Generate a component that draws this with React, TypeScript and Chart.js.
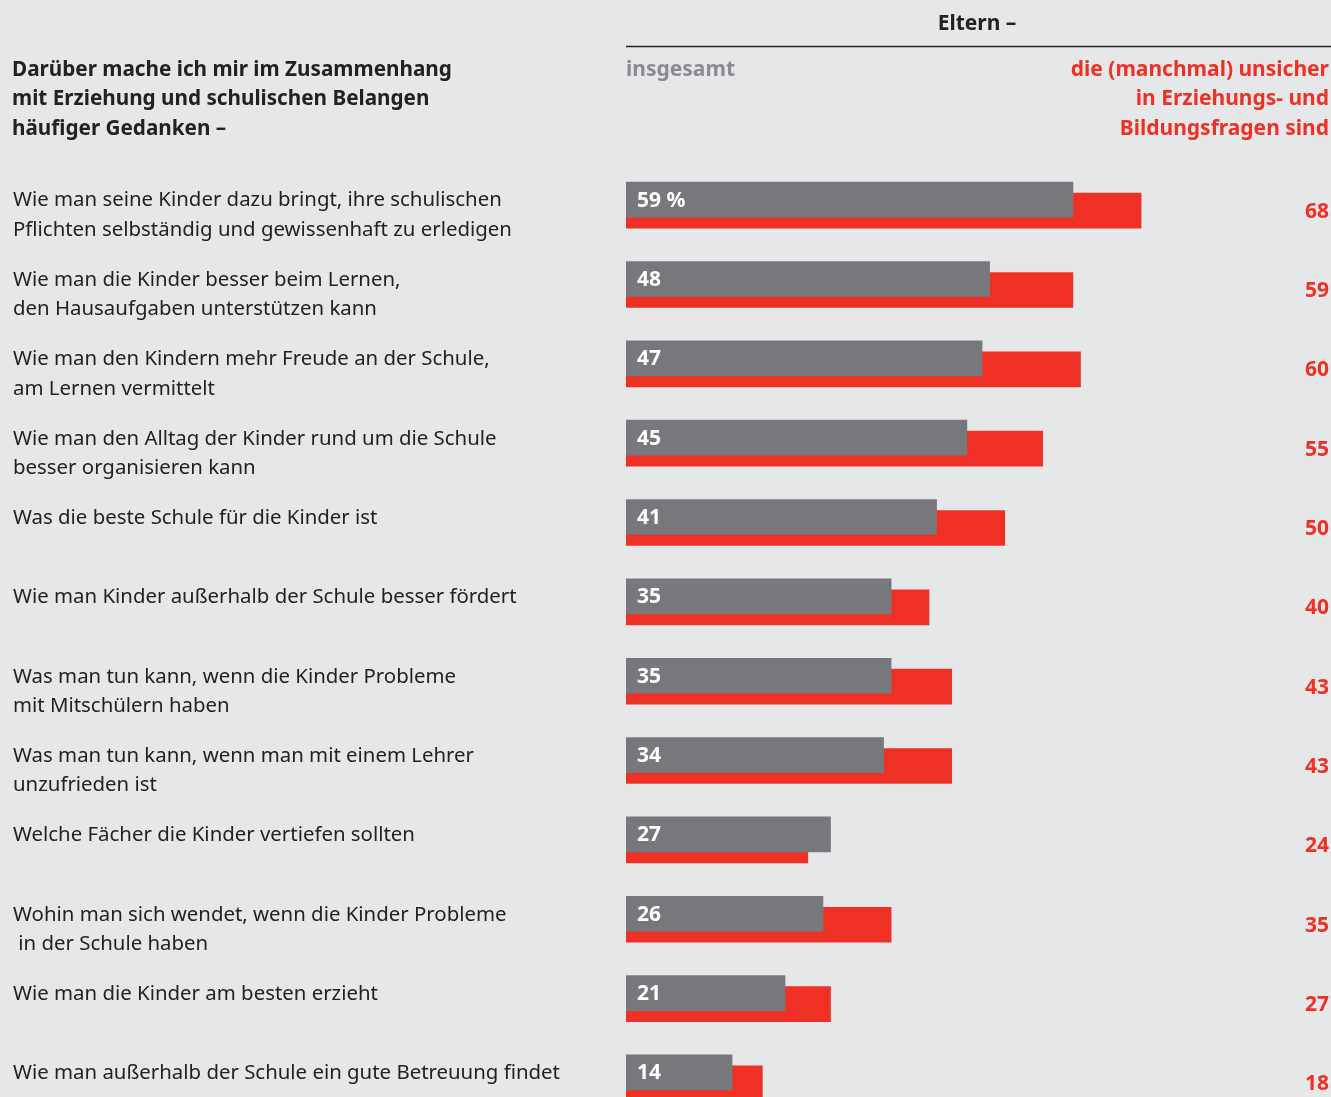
import React, { useEffect, useRef } from "react";
import { Chart, registerables } from "chart.js";

Chart.register(...registerables);

const categories: string[][] = [
  ["Wie man seine Kinder dazu bringt, ihre schulischen", "Pflichten selbständig und gewissenhaft zu erledigen"],
  ["Wie man die Kinder besser beim Lernen,", "den Hausaufgaben unterstützen kann"],
  ["Wie man den Kindern mehr Freude an der Schule,", "am Lernen vermittelt"],
  ["Wie man den Alltag der Kinder rund um die Schule", "besser organisieren kann"],
  ["Was die beste Schule für die Kinder ist"],
  ["Wie man Kinder außerhalb der Schule besser fördert"],
  ["Was man tun kann, wenn die Kinder Probleme", "mit Mitschülern haben"],
  ["Was man tun kann, wenn man mit einem Lehrer", "unzufrieden ist"],
  ["Welche Fächer die Kinder vertiefen sollten"],
  ["Wohin man sich wendet, wenn die Kinder Probleme", " in der Schule haben"],
  ["Wie man die Kinder am besten erzieht"],
  ["Wie man außerhalb der Schule ein gute Betreuung findet"],
];

const insgesamt = [59, 48, 47, 45, 41, 35, 35, 34, 27, 26, 21, 14];
const unsicher = [68, 59, 60, 55, 50, 40, 43, 43, 24, 35, 27, 18];

const insgesamtLabels = ["59 %", "48", "47", "45", "41", "35", "35", "34", "27", "26", "21", "14"];
const unsicherLabels = ["68", "59", "60", "55", "50", "40", "43", "43", "24", "35", "27", "18"];

const questionHeader = [
  "Darüber mache ich mir im Zusammenhang",
  "mit Erziehung und schulischen Belangen",
  "häufiger Gedanken –",
];
const groupHeader = "Eltern –";
const seriesHeaderGray = "insgesamt";
const seriesHeaderRed = [
  "die (manchmal) unsicher",
  "in Erziehungs- und",
  "Bildungsfragen sind",
];

const W = 1331;
const H = 1097;
const BG = "#e6e7e9";
const GRAY = "#77787b";
const RED = "#ee3124";
const DARK = "#222222";
const FONT = "'Noto Sans', sans-serif";

export default function App() {
  const ref = useRef<HTMLCanvasElement | null>(null);

  useEffect(() => {
    document.body.style.margin = "0";
    document.body.style.background = BG;
    const canvas = ref.current;
    if (!canvas) return;

    const textPlugin = {
      id: "texts",
      beforeDraw(chart: any) {
        const ctx = chart.ctx;
        ctx.save();
        ctx.fillStyle = BG;
        ctx.fillRect(0, 0, chart.width, chart.height);
        ctx.restore();
      },
      afterDatasetsDraw(chart: any) {
        const ctx = chart.ctx;
        const x = chart.scales.x;
        const y = chart.scales.y;
        const y2 = chart.scales.y2;
        const left = x.getPixelForValue(0);
        const right = chart.width - 2;
        ctx.save();
        ctx.textBaseline = "middle";

        // headers
        ctx.fillStyle = DARK;
        ctx.font = `bold 21px ${FONT}`;
        ctx.textAlign = "center";
        ctx.fillText(groupHeader, 977, 24);
        ctx.strokeStyle = DARK;
        ctx.lineWidth = 1.5;
        ctx.beginPath();
        ctx.moveTo(left, 46.5);
        ctx.lineTo(chart.width, 46.5);
        ctx.stroke();

        ctx.textAlign = "left";
        ctx.font = `bold 20.7px ${FONT}`;
        questionHeader.forEach((t, i) => ctx.fillText(t, 12, 70 + i * 29.5));
        ctx.font = `bold 21px ${FONT}`;
        ctx.fillStyle = "#8a8b8e";
        ctx.fillText(seriesHeaderGray, left, 70);
        ctx.fillStyle = RED;
        ctx.textAlign = "right";
        seriesHeaderRed.forEach((t, i) => ctx.fillText(t, right, 70 + i * 29.5));

        // rows
        categories.forEach((lines, i) => {
          const yc = y.getPixelForValue(i) + 1;
          const yr = y2.getPixelForValue(i) + 1;
          ctx.textAlign = "left";
          ctx.fillStyle = DARK;
          ctx.font = `20.4px ${FONT}`;
          lines.forEach((t, j) => ctx.fillText(t, 13, yc + j * 29.5));
          ctx.fillStyle = "#ffffff";
          ctx.font = `bold 21px ${FONT}`;
          ctx.fillText(insgesamtLabels[i], left + 11, yc);
          ctx.fillStyle = RED;
          ctx.textAlign = "right";
          ctx.fillText(unsicherLabels[i], right, yr);
        });
        ctx.restore();
      },
    };

    const chart = new Chart(canvas, {
      type: "bar",
      data: {
        labels: categories.map((c) => c.join(" ")),
        datasets: [
          {
            label: seriesHeaderGray,
            data: insgesamt.map((v, i) => ({ x: v, y: i })),
            backgroundColor: GRAY,
            barThickness: 35,
            grouped: false,
            yAxisID: "y",
            order: 0,
          },
          {
            label: seriesHeaderRed.join(" "),
            data: unsicher.map((v, i) => ({ x: v, y: i })),
            backgroundColor: RED,
            barThickness: 35,
            grouped: false,
            yAxisID: "y2",
            order: 1,
          },
        ] as any,
      },
      options: {
        indexAxis: "y",
        responsive: false,
        animation: false,
        devicePixelRatio: 1,
        layout: { padding: { left: 626, top: 160, right: 0, bottom: 0 } },
        plugins: { legend: { display: false }, tooltip: { enabled: false } },
        scales: {
          x: { type: "linear", min: 0, max: 93.07, display: false, offset: false },
          y: { type: "linear", min: -0.5, max: 11.31, reverse: true, display: false, offset: false },
          y2: { type: "linear", min: -0.6386, max: 11.1714, reverse: true, display: false, offset: false },
        },
      } as any,
      plugins: [textPlugin],
    });
    return () => chart.destroy();
  }, []);

  return (
    <div style={{ position: "absolute", left: 0, top: 0, width: W, height: H, background: BG }}>
      <canvas ref={ref} width={W} height={H} style={{ width: W, height: H, display: "block" }} />
    </div>
  );
}
